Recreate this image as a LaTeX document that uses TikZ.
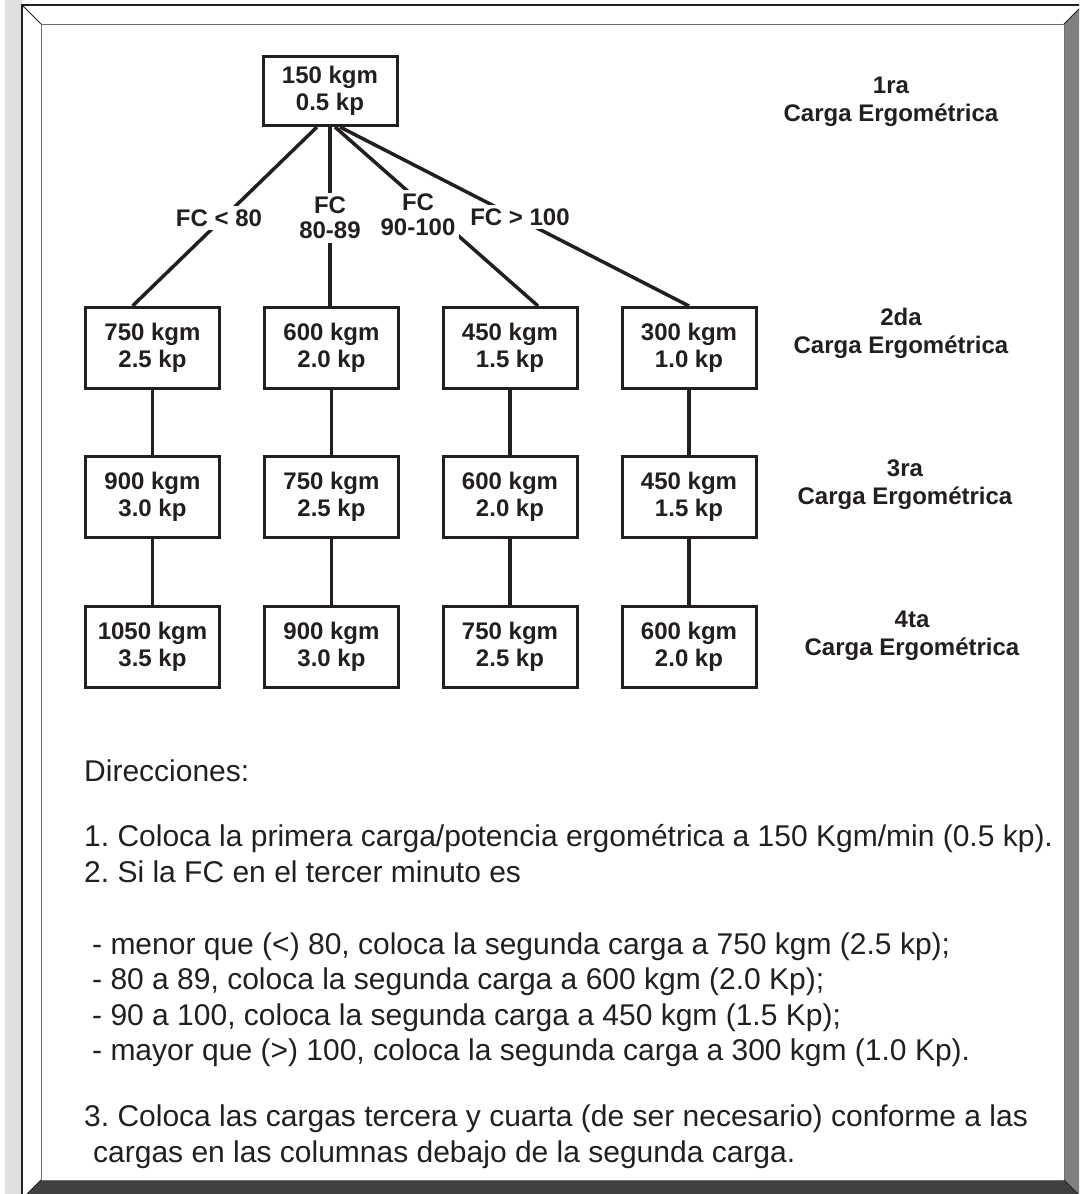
\documentclass[tikz,border=0pt]{standalone}
\usepackage{fontspec}
\setmainfont{Liberation Sans}
\usetikzlibrary{positioning, calc}
\definecolor{InkBlack}{HTML}{231F20}
\definecolor{StripGray}{HTML}{E0E0E0}
\definecolor{SideGray}{HTML}{808080}
\definecolor{BaseGray}{HTML}{404040}
\definecolor{EdgeGray}{HTML}{6E6E6E}
\tikzset{
  cargabox/.style={draw=InkBlack, line width=3pt, fill=white, align=center, minimum width=134pt, minimum height=81pt, inner sep=0pt, font=\fontsize{24}{27}\selectfont\bfseries, text=InkBlack},
  topbox/.style={cargabox, minimum height=69pt},
  fclabel/.style={fill=white, align=center, inner sep=4pt, font=\fontsize{24}{25}\selectfont\bfseries, text=InkBlack},
  levellabel/.style={align=center, inner sep=0pt, font=\fontsize{24}{28}\selectfont\bfseries, text=InkBlack},
  dirtext/.style={anchor=north west, align=left, inner sep=0pt, font=\fontsize{30}{35.5}\selectfont\frenchspacing, text=InkBlack},
  conn/.style={line width=3.5pt, draw=InkBlack}
}

\begin{document}
\begin{tikzpicture}[x=1pt, y=-1pt]
\useasboundingbox (0,0) rectangle (1079,1194);
\clip (0,0) rectangle (1079,1194);

% bevelled frame
\fill[StripGray] (5,0) rectangle (22,1194);
\fill[white] (22,5) -- (1083,5) -- (1064,24) -- (41,24) -- cycle;
\fill[white] (22,5) -- (41,24) -- (41,1180) -- (22,1199) -- cycle;
\fill[SideGray] (1083,5) -- (1083,1199) -- (1064,1180) -- (1064,24) -- cycle;
\fill[BaseGray] (22,1199) -- (41,1180) -- (1064,1180) -- (1083,1199) -- cycle;
\draw[EdgeGray, line width=1pt] (41,24) rectangle (1064,1180);
\draw[InkBlack, line width=1.2pt] (22,1199) -- (22,5) -- (1083,5);
\draw[InkBlack, line width=1pt] (22,5) -- (41,24) (1064,24) -- (1083,5) (1064,1180) -- (1083,1199) (41,1180) -- (22,1199);

% loads
\node[topbox] (first) at (330,91) {150 kgm\\0.5 kp};

\node[cargabox] (a2) at (152.5,348) {750 kgm\\2.5 kp};
\node[cargabox] (b2) at (331.5,348) {600 kgm\\2.0 kp};
\node[cargabox] (c2) at (510,348) {450 kgm\\1.5 kp};
\node[cargabox] (d2) at (689,348) {300 kgm\\1.0 kp};

\node[cargabox] (a3) at (152.5,497) {900 kgm\\3.0 kp};
\node[cargabox] (b3) at (331.5,497) {750 kgm\\2.5 kp};
\node[cargabox] (c3) at (510,497) {600 kgm\\2.0 kp};
\node[cargabox] (d3) at (689,497) {450 kgm\\1.5 kp};

\node[cargabox] (a4) at (152.5,647) {1050 kgm\\3.5 kp};
\node[cargabox] (b4) at (331.5,647) {900 kgm\\3.0 kp};
\node[cargabox] (c4) at (510,647) {750 kgm\\2.5 kp};
\node[cargabox] (d4) at (689,647) {600 kgm\\2.0 kp};

\draw[conn] ([xshift=-13pt]first.south) -- ([xshift=-20pt]a2.north);
\draw[conn] (first.south) -- ([xshift=-1.5pt]b2.north);
\draw[conn] ([xshift=5pt]first.south) -- ([xshift=28pt]c2.north);
\draw[conn] ([xshift=10pt]first.south) -- (d2.north);

\draw[conn] (a2) -- (a3);
\draw[conn] (b2) -- (b3);
\draw[conn] (c2) -- (c3);
\draw[conn] (d2) -- (d3);
\draw[conn] (a3) -- (a4);
\draw[conn] (b3) -- (b4);
\draw[conn] (c3) -- (c4);
\draw[conn] (d3) -- (d4);

% heart rate ranges
\node[fclabel] (fca) at (219,218) {FC < 80};
\node[fclabel] (fcb) at (330,218) {FC\\80-89};
\node[fclabel] (fcc) at (418,215) {FC\\90-100};
\node[fclabel] (fcd) at (520,217) {FC > 100};

% levels
\node[levellabel] (lev1) at (891,102) {1ra\\Carga Ergométrica};
\node[levellabel] (lev2) at (901,333) {2da\\Carga Ergométrica};
\node[levellabel] (lev3) at (905,485) {3ra\\Carga Ergométrica};
\node[levellabel] (lev4) at (912,636) {4ta\\Carga Ergométrica};

% directions
\node[dirtext] (directions) at (84,760) {Direcciones:\\[29.5pt]
1. Coloca la primera carga/potencia ergométrica a 150 Kgm/min (0.5 kp).\\
2. Si la FC en el tercer minuto es\\[36.5pt]
\hspace*{8pt}- menor que (<) 80, coloca la segunda carga a 750 kgm (2.5 kp);\\
\hspace*{8pt}- 80 a 89, coloca la segunda carga a 600 kgm (2.0 Kp);\\
\hspace*{8pt}- 90 a 100, coloca la segunda carga a 450 kgm (1.5 Kp);\\
\hspace*{8pt}- mayor que (>) 100, coloca la segunda carga a 300 kgm (1.0 Kp).\\[30.5pt]
3. Coloca las cargas tercera y cuarta (de ser necesario) conforme a las\\
\hspace*{9pt}cargas en las columnas debajo de la segunda carga.};
\end{tikzpicture}
\end{document}
